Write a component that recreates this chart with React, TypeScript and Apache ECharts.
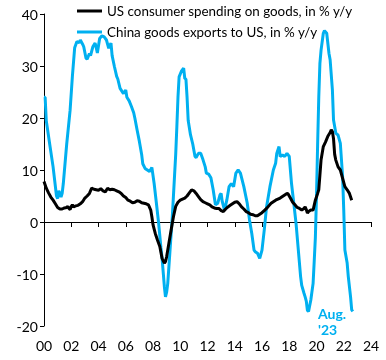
import React, { useEffect, useRef } from "react";
import * as echarts from "echarts";

// x = months since start of series (axis labels every 2 years)
const xTickLabels = ["00", "02", "04", "06", "08", "10", "12", "14", "16", "18", "20", "22", "24"];
const seriesNames = ["US consumer spending on goods, in % y/y", "China goods exports to US, in % y/y"];
const endLabel = "Aug.\n'23";

const usSpending: [number, number][] = [
  [0, 7.8], [2, 6.5], [4, 5.6], [6, 4.8], [8, 4.2], [10, 3.5], [12, 2.8], [14, 2.5], [16, 2.5], [18, 2.7],
  [20, 2.8], [21, 3], [22, 2.6], [23, 2.4], [24, 3], [25, 3.3], [26, 2.9], [28, 3.1], [30, 3.2], [32, 3.5],
  [34, 3.9], [36, 4.6], [38, 5], [40, 5.5], [42, 6.5], [44, 6.3], [46, 6.2], [48, 6.1], [50, 6.4], [52, 6],
  [54, 5.8], [56, 6.5], [58, 6.2], [60, 6.3], [62, 6.2], [64, 6], [66, 5.8], [68, 5.5], [70, 5], [72, 4.7],
  [74, 4.2], [76, 4], [78, 3.7], [80, 3.8], [82, 4.1], [84, 4], [86, 3.7], [88, 3.6], [90, 3.5], [92, 3.3],
  [94, 2.3], [95, 1], [96, -0.5], [98, -2.2], [100, -3.5], [102, -4.7], [104, -7], [106, -7.9], [107, -7.6],
  [108, -6.7], [110, -4.1], [112, -1.5], [114, 1], [116, 3], [118, 3.8], [120, 4.2], [122, 4.4], [124, 4.6],
  [126, 5], [128, 5.6], [130, 6.2], [132, 6], [134, 5.5], [136, 4.9], [138, 4.3], [140, 3.9], [142, 3.7],
  [144, 3.5], [146, 3.3], [148, 2.9], [150, 2.7], [152, 2.6], [154, 2.6], [156, 2.2], [158, 2], [160, 2.5],
  [162, 2.9], [164, 3.2], [166, 3.5], [168, 3.8], [170, 3.9], [172, 3.5], [174, 2.9], [176, 2.5], [178, 2],
  [180, 1.8], [182, 1.5], [184, 1.4], [186, 1.2], [188, 1.2], [190, 1.5], [192, 1.8], [194, 2.2], [196, 2.6],
  [198, 3.1], [200, 3.6], [202, 3.9], [204, 4.2], [206, 4.4], [208, 4.6], [210, 4.9], [212, 5.2], [214, 5.5],
  [215, 5.4], [217, 4.6], [219, 3.8], [221, 3.3], [223, 2.8], [225, 2.6], [227, 2.3], [229, 2.6], [230, 2.9],
  [231, 2.4], [232, 1.7], [233, 2], [235, 2.3], [237, 2.3], [239, 4.2], [241, 5.5], [242, 6.2], [243, 9],
  [244, 11.9], [246, 14.5], [248, 15.4], [250, 16.5], [252, 17.2], [253, 17.7], [254, 17.4], [255, 16],
  [256, 13], [257, 11.9], [259, 10.6], [261, 10], [263, 8.4], [265, 6.8], [267, 6.2], [269, 5.5], [271, 4.2],
];

const chinaExports: [number, number][] = [
  [0, 24], [1, 24], [2, 19.5], [5, 15], [8, 10.6], [11, 5], [12, 4.5], [13, 6], [14, 5.5], [15, 4.8],
  [16, 5.5], [17, 7.4], [20, 15], [23, 21.5], [25, 28], [27, 33.5], [29, 34.7], [31, 34.5], [32, 35],
  [34, 34.2], [35, 33.7], [37, 31.5], [38, 31.3], [40, 32.4], [41, 32], [43, 33.7], [45, 34.4], [46, 33.5],
  [47, 32.5], [49, 35.3], [51, 35.8], [53, 35.6], [55, 35], [57, 33.4], [58, 34], [59, 34.4], [60, 32],
  [62, 29.9], [64, 28], [65, 27.5], [67, 25.7], [70, 24.7], [72, 25.4], [73, 24], [75, 23.3], [77, 22.2],
  [79, 21], [80, 20], [82, 17.7], [84, 15.5], [86, 13], [87, 11.2], [89, 10.3], [91, 10], [93, 9.7],
  [95, 10.5], [97, 7.4], [99, 3.6], [101, -0.3], [103, -5], [104, -7], [106, -12.4], [107, -14.4],
  [108, -13.5], [109, -11.8], [111, -5.4], [113, 1], [115, 9], [116, 13], [117, 18.3], [118, 24], [119, 27.9],
  [121, 29], [123, 29.6], [124, 27.6], [125, 27.5], [126, 24], [127, 19.5], [129, 16.8], [131, 15],
  [133, 12.6], [134, 12.4], [136, 13.2], [138, 13.2], [140, 12], [142, 10.6], [143, 9.4], [145, 9.2],
  [147, 8.5], [149, 6.2], [151, 3.3], [153, 3.6], [155, 5.2], [156, 5.5], [157, 3.9], [159, 2.3], [161, 4.2],
  [163, 6.8], [165, 7.4], [167, 6.8], [169, 9.4], [171, 10], [173, 9.4], [176, 6.8], [179, 3.6], [181, 0.4],
  [183, -2.2], [185, -5.4], [186, -5.7], [188, -6], [190, -7], [192, -5.4], [194, -1.5], [196, 2.9],
  [199, 6.8], [202, 10], [204, 11.3], [205, 13.2], [207, 14.5], [208, 12.6], [210, 12.9], [212, 12.6],
  [214, 13.2], [216, 12.6], [218, 7.4], [220, 3.6], [222, -0.3], [224, -5.4], [226, -10.5], [227, -12.2],
  [229, -13.7], [230, -14.4], [231, -15.2], [232, -17], [233, -17.2], [235, -15], [237, -11.8], [238, -7.5],
  [239, -3], [240, 5], [241, 15], [242, 24], [243, 30.5], [244, 33], [246, 36.3], [247, 36.8], [249, 36.3],
  [251, 32.4], [252, 31.2], [254, 25.4], [255, 19.6], [257, 17.1], [259, 16.7], [261, 15.1], [263, 8.7],
  [264, 2.3], [265, -5.4], [267, -7.9], [268, -10.5], [270, -14.4], [271, -16.9], [272, -17.2],
];

const BLUE = "#00B0F0";
const FONT = "Lato";

export default function App() {
  const ref = useRef<HTMLDivElement>(null);
  useEffect(() => {
    if (!ref.current) return;
    const chart = echarts.init(ref.current, undefined, { renderer: "svg" });
    chart.setOption({
      animation: false,
      textStyle: { fontFamily: FONT },
      grid: { left: 44, right: 15, top: 14, bottom: 34 },
      legend: {
        left: 77,
        top: 3,
        padding: 0,
        orient: "vertical",
        itemWidth: 25,
        itemHeight: 3,
        itemGap: 5,
        icon: "rect",
        textStyle: { fontFamily: FONT, fontSize: 13.4, color: "#000", lineHeight: 16 },
        data: seriesNames,
      },
      xAxis: [
        {
          type: "value",
          min: 0,
          max: 288,
          interval: 24,
          position: "bottom",
          axisLine: { show: false, onZero: false },
          axisTick: { show: false },
          splitLine: { show: false },
          axisLabel: {
            margin: 12,
            fontFamily: FONT,
            fontSize: 14,
            color: "#000",
            formatter: (v: number) => xTickLabels[Math.round(v / 24)] ?? "",
          },
        },
        {
          type: "value",
          min: 0,
          max: 288,
          interval: 24,
          position: "top",
          axisLine: { show: true, onZero: true, lineStyle: { color: "#000", width: 1 } },
          axisTick: { show: true, inside: true, length: 5, lineStyle: { color: "#000" } },
          axisLabel: { show: false },
          splitLine: { show: false },
        },
      ],
      yAxis: {
        type: "value",
        min: -20,
        max: 40,
        interval: 10,
        axisLine: { show: true, onZero: false, lineStyle: { color: "#000", width: 1 } },
        axisTick: { show: true, length: 4, lineStyle: { color: "#000" } },
        splitLine: { show: false },
        axisLabel: { margin: 6, fontFamily: FONT, fontSize: 14, color: "#000" },
      },
      series: [
        {
          name: seriesNames[0],
          type: "line",
          data: usSpending,
          showSymbol: false,
          symbol: "none",
          lineStyle: { color: "#000", width: 3 },
          itemStyle: { color: "#000" },
          z: 3,
        },
        {
          name: seriesNames[1],
          type: "line",
          data: chinaExports,
          showSymbol: false,
          symbol: "none",
          lineStyle: { color: BLUE, width: 3 },
          itemStyle: { color: BLUE },
          z: 2,
        },
      ],
      graphic: [
        {
          type: "text",
          left: 318,
          top: 305,
          style: {
            text: endLabel,
            fill: BLUE,
            font: `bold 14px ${FONT}`,
            lineHeight: 16,
          },
        },
      ],
    });
    return () => chart.dispose();
  }, []);
  return <div ref={ref} style={{ position: "fixed", left: 0, top: 0, width: 386, height: 360 }} />;
}
